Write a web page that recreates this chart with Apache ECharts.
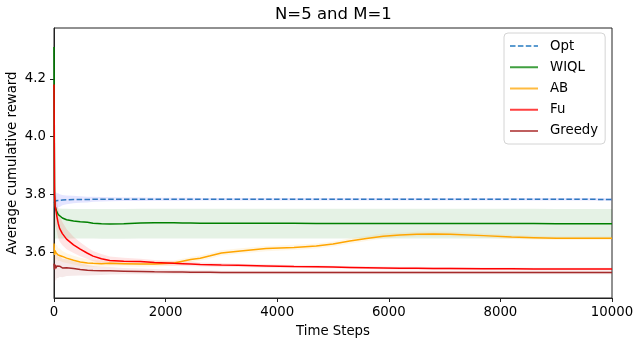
<!DOCTYPE html>
<html><head><meta charset="utf-8">
<script src="https://cdn.jsdelivr.net/npm/echarts@6/dist/echarts.min.js"></script>
<style>html,body{margin:0;padding:0;background:#fff}#c{width:641px;height:345px}</style>
</head><body><div id="c"></div>
<script>
const steps=[0,10,20,35,50,75,100,150,225,350,470,600,700,850,1000,1250,1550,1800,2150,2300,2450,2620,2800,3000,3300,3800,4300,4700,5000,5300,5600,5900,6200,6500,6800,7100,7700,8200,8600,9000,9500,10000];
const yTicks=[3.6,3.8,4.0,4.2];
const xTicks=[0,2000,4000,6000,8000,10000];
const seriesNames=['Opt','WIQL','AB','Fu','Greedy'];

const optMean=[3.770,3.775,3.772,3.778,3.776,3.779,3.778,3.780,3.781,3.782,3.782,3.782,3.783,3.783,3.783,3.783,3.783,3.783,3.783,3.783,3.783,3.783,3.783,3.783,3.783,3.783,3.783,3.783,3.783,3.783,3.783,3.783,3.783,3.783,3.783,3.783,3.783,3.783,3.783,3.783,3.783,3.782];
const optLo=[3.730,3.737,3.737,3.748,3.748,3.754,3.756,3.762,3.766,3.769,3.771,3.772,3.774,3.775,3.776,3.777,3.777,3.778,3.778,3.778,3.778,3.779,3.779,3.779,3.779,3.779,3.779,3.779,3.779,3.779,3.779,3.779,3.779,3.779,3.779,3.779,3.779,3.779,3.779,3.779,3.779,3.778];
const optHi=[3.810,3.813,3.807,3.808,3.804,3.804,3.800,3.798,3.796,3.795,3.793,3.792,3.792,3.791,3.790,3.789,3.789,3.788,3.788,3.788,3.788,3.787,3.787,3.787,3.787,3.787,3.787,3.787,3.787,3.787,3.787,3.787,3.787,3.787,3.787,3.787,3.787,3.787,3.787,3.787,3.787,3.786];

const wiqlMean=[4.310,3.800,3.760,3.748,3.740,3.730,3.725,3.718,3.712,3.708,3.705,3.703,3.700,3.698,3.697,3.698,3.701,3.702,3.702,3.701,3.701,3.700,3.700,3.700,3.700,3.700,3.700,3.699,3.699,3.699,3.699,3.699,3.699,3.699,3.699,3.699,3.699,3.699,3.699,3.698,3.698,3.698];
const wiqlLo=[3.640,3.645,3.646,3.647,3.647,3.647,3.647,3.647,3.647,3.647,3.647,3.647,3.647,3.646,3.646,3.646,3.647,3.647,3.647,3.647,3.647,3.647,3.647,3.647,3.647,3.647,3.647,3.647,3.647,3.647,3.647,3.647,3.647,3.647,3.647,3.647,3.647,3.647,3.647,3.647,3.647,3.647];
const wiqlHi=[3.760,3.758,3.756,3.754,3.753,3.752,3.751,3.750,3.750,3.749,3.749,3.749,3.749,3.749,3.749,3.749,3.750,3.750,3.750,3.750,3.750,3.750,3.750,3.750,3.750,3.750,3.750,3.750,3.750,3.750,3.750,3.750,3.750,3.750,3.750,3.750,3.750,3.750,3.750,3.749,3.749,3.749];

const abMean=[3.630,3.590,3.605,3.598,3.602,3.590,3.592,3.585,3.579,3.572,3.566,3.562,3.561,3.560,3.561,3.560,3.559,3.559,3.562,3.568,3.574,3.579,3.587,3.597,3.603,3.612,3.616,3.621,3.628,3.638,3.647,3.655,3.659,3.662,3.663,3.662,3.657,3.652,3.650,3.648,3.648,3.648];
const abLo=[3.590,3.560,3.575,3.572,3.578,3.568,3.571,3.566,3.562,3.557,3.552,3.549,3.549,3.549,3.550,3.550,3.549,3.550,3.553,3.559,3.565,3.570,3.578,3.588,3.594,3.603,3.607,3.612,3.619,3.629,3.638,3.646,3.651,3.654,3.655,3.654,3.650,3.645,3.643,3.642,3.642,3.642];
const abHi=[3.670,3.620,3.635,3.624,3.626,3.612,3.613,3.604,3.596,3.587,3.580,3.575,3.573,3.571,3.572,3.570,3.569,3.568,3.571,3.577,3.583,3.588,3.596,3.606,3.612,3.621,3.625,3.630,3.637,3.647,3.656,3.664,3.667,3.670,3.671,3.670,3.664,3.659,3.657,3.654,3.654,3.654];

const fuMean=[4.180,3.800,3.760,3.745,3.725,3.700,3.682,3.664,3.645,3.625,3.610,3.596,3.586,3.577,3.571,3.568,3.567,3.564,3.561,3.560,3.559,3.557,3.556,3.555,3.554,3.552,3.550,3.549,3.548,3.547,3.546,3.545,3.544,3.544,3.543,3.543,3.542,3.542,3.541,3.541,3.541,3.541];
const fuLo=[3.900,3.700,3.690,3.685,3.670,3.650,3.637,3.624,3.610,3.597,3.586,3.576,3.568,3.561,3.557,3.556,3.557,3.555,3.553,3.552,3.551,3.550,3.549,3.548,3.548,3.546,3.545,3.544,3.543,3.542,3.541,3.540,3.539,3.539,3.538,3.538,3.537,3.537,3.536,3.536,3.536,3.536];
const fuHi=[4.300,3.900,3.830,3.805,3.780,3.750,3.727,3.704,3.680,3.653,3.634,3.616,3.604,3.593,3.585,3.580,3.577,3.573,3.569,3.568,3.567,3.564,3.563,3.562,3.560,3.558,3.555,3.554,3.553,3.552,3.551,3.550,3.549,3.549,3.548,3.548,3.547,3.547,3.546,3.546,3.546,3.546];

const greedyMean=[3.560,3.540,3.556,3.544,3.552,3.547,3.551,3.545,3.546,3.543,3.540,3.537,3.536,3.535,3.535,3.534,3.533,3.532,3.531,3.531,3.530,3.530,3.530,3.529,3.529,3.529,3.529,3.529,3.529,3.529,3.529,3.529,3.529,3.529,3.529,3.529,3.529,3.529,3.529,3.529,3.529,3.529];
const greedyLo=[3.500,3.490,3.505,3.500,3.510,3.510,3.515,3.513,3.517,3.518,3.519,3.519,3.520,3.521,3.522,3.523,3.523,3.523,3.523,3.523,3.523,3.523,3.523,3.523,3.523,3.523,3.523,3.523,3.523,3.523,3.523,3.523,3.523,3.523,3.523,3.523,3.523,3.523,3.523,3.523,3.523,3.523];
const greedyHi=[3.620,3.590,3.600,3.588,3.594,3.584,3.587,3.577,3.575,3.568,3.561,3.555,3.552,3.549,3.548,3.545,3.543,3.541,3.539,3.539,3.537,3.537,3.537,3.535,3.535,3.535,3.535,3.535,3.535,3.535,3.535,3.535,3.535,3.535,3.535,3.535,3.535,3.535,3.535,3.535,3.535,3.535];

const FONT='DejaVu Sans';
const FS=13.3;
function pairs(arr){return steps.map((t,i)=>[t,arr[i]]);}
function band(lo,hi,color,op){
  const data=steps.map((t,i)=>[t,lo[i],hi[i]]);
  return {type:'custom',z:1,silent:true,clip:true,data:data,encode:{x:0,y:[1,2]},
    renderItem:function(params,api){
      if(params.dataIndex!==0) return null;
      const top=[],bot=[];
      for(let i=0;i<data.length;i++){
        top.push(api.coord([data[i][0],data[i][2]]));
        bot.push(api.coord([data[i][0],data[i][1]]));
      }
      const pts=top.concat(bot.reverse());
      return {type:'polygon',shape:{points:pts},style:{fill:color,opacity:op}};
    }};
}
function line(name,arr,color,dashed){
  return {name:name,type:'line',data:pairs(arr),symbol:'none',z:3,
    lineStyle:{color:color,width:1.5,type:dashed?[5.5,2.4]:'solid'},itemStyle:{color:color}};
}
const solidIcon='path://M0,0h28v2h-28z M34.99,0h0.01v0.01h-0.01z';
const dashIcon='path://M0,0h5.5v2h-5.5z M7.9,0h5.5v2h-5.5z M15.8,0h5.5v2h-5.5z M23.7,0h4.3v2h-4.3z M34.99,0h0.01v0.01h-0.01z';

const opt={
  animation:false,
  backgroundColor:'#fff',
  title:{text:'N=5 and M=1',left:275,top:6,padding:0,textStyle:{fontFamily:FONT,fontSize:16.5,fontWeight:'normal',color:'#000'}},
  grid:{left:54,right:29,top:28,bottom:47,show:true,borderColor:'#222',borderWidth:1,backgroundColor:'transparent',containLabel:false,outerBoundsMode:'none'},
  legend:{
    orient:'vertical',left:504,top:33,
    backgroundColor:'rgba(255,255,255,0.85)',borderColor:'#d4d4d4',borderWidth:1,borderRadius:4,
    padding:[5,7,5,6],itemGap:5,itemWidth:35,itemHeight:2,
    textStyle:{fontFamily:FONT,fontSize:FS,color:'#000',lineHeight:16.2},
    data:[
      {name:'Opt',icon:dashIcon,itemStyle:{color:'#5b9bd0'}},
      {name:'WIQL',icon:solidIcon,itemStyle:{color:'#40a040'}},
      {name:'AB',icon:solidIcon,itemStyle:{color:'#ffbb40'}},
      {name:'Fu',icon:solidIcon,itemStyle:{color:'#ff4040'}},
      {name:'Greedy',icon:solidIcon,itemStyle:{color:'#bf5f5f'}}
    ]
  },
  xAxis:{type:'value',min:0,max:10000,interval:2000,
    name:'Time Steps',nameLocation:'middle',nameGap:27,nameMoveOverlap:false,
    nameTextStyle:{fontFamily:FONT,fontSize:FS,color:'#000'},
    axisLine:{show:true,onZero:false,lineStyle:{color:'#222',width:1}},
    axisTick:{show:true,length:4,inside:false,lineStyle:{color:'#222'}},
    axisLabel:{fontFamily:FONT,fontSize:FS,color:'#000',margin:8,formatter:v=>String(v)},
    splitLine:{show:false}},
  yAxis:{type:'value',min:3.441,max:4.376,
    name:'Average cumulative reward',nameLocation:'middle',nameGap:35,nameMoveOverlap:false,
    nameTextStyle:{fontFamily:FONT,fontSize:FS,color:'#000'},
    axisLine:{show:true,lineStyle:{color:'#222',width:1}},
    axisTick:{show:true,length:4,customValues:yTicks,lineStyle:{color:'#222'}},
    axisLabel:{fontFamily:FONT,fontSize:FS,color:'#000',margin:8,customValues:yTicks,formatter:v=>Number(v).toFixed(1)},
    splitLine:{show:false}},
  series:[
    band(optLo,optHi,'#0000ff',0.1),
    band(wiqlLo,wiqlHi,'#008000',0.1),
    band(abLo,abHi,'#ffa500',0.1),
    band(fuLo,fuHi,'#ff0000',0.1),
    band(greedyLo,greedyHi,'#a52a2a',0.1),
    line('Opt',optMean,'#2f78c0',true),
    line('WIQL',wiqlMean,'#008000',false),
    line('AB',abMean,'#ffa500',false),
    line('Fu',fuMean,'#ff0000',false),
    line('Greedy',greedyMean,'#a52a2a',false)
  ]
};
const chart=echarts.init(document.getElementById('c'),null,{renderer:'canvas'});
chart.setOption(opt);
</script>
</body></html>
